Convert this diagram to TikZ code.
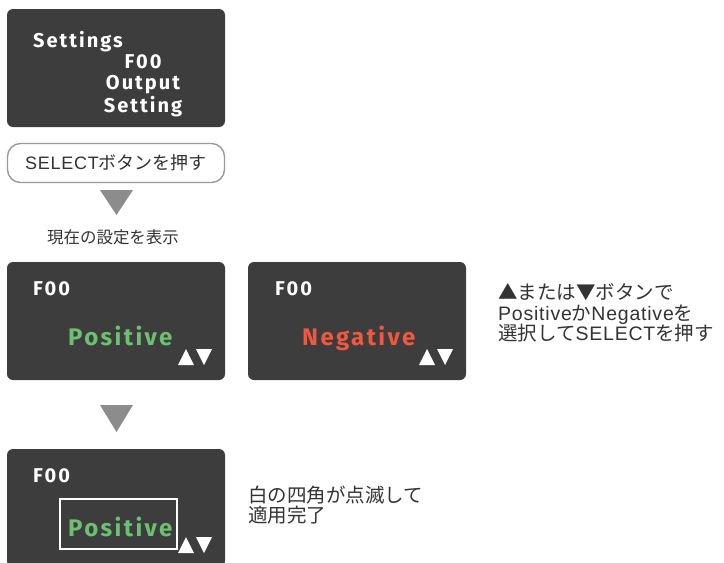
\documentclass[tikz,border=0pt]{standalone}
\usepackage{fontspec}
\setmainfont{Noto Sans CJK JP}
\newfontfamily\dispfont[LetterSpace=10]{Fira Sans}
\newfontfamily\latfont[LetterSpace=4]{Liberation Sans}
\newcommand{\lat}[1]{{\latfont #1}}

\definecolor{screenbg}{HTML}{3D3D3D}
\definecolor{posgreen}{HTML}{6DC072}
\definecolor{neggred}{HTML}{F0583F}
\definecolor{arrowgray}{HTML}{8C8C8C}
\definecolor{btnborder}{HTML}{9A9A9A}
\definecolor{txtgray}{HTML}{333333}

% up/down key marks, bottom-left corner at (#1,#2)
\newcommand{\updown}[2]{%
  \fill[white] (#1,#2) -- ++(16,0) -- ++(-8,-16) -- cycle;
  \fill[white] (#1+18,#2-16) -- ++(16,0) -- ++(-8,16) -- cycle;
}

\begin{document}
\begin{tikzpicture}[
    x=1pt, y=-1pt,
    screen/.style={
        rectangle, rounded corners=6pt, fill=screenbg,
        minimum width=218pt, minimum height=118pt, inner sep=0pt
    },
    disp/.style={font=\dispfont\bfseries\fontsize{20}{24}\selectfont,
        text=white, inner sep=0pt, anchor=base west},
    big/.style={disp, font=\dispfont\bfseries\fontsize{24}{28}\selectfont},
    button/.style={
        rectangle, rounded corners=13pt, draw=btnborder, line width=1.4pt,
        fill=white, minimum width=217pt, minimum height=39pt,
        font=\fontsize{18}{20}\selectfont, text=txtgray
    },
    note/.style={font=\fontsize{19.5}{20.5}\selectfont, text=txtgray,
        align=left, anchor=west, inner sep=0pt},
    step arrow/.style={fill=arrowgray},
]
\clip (0,0) rectangle (724,563);

% Menu screen
\node[screen] (menu) at (116,68) {};
\node[disp] (msettings) at (33,47) {Settings};
\node[disp, anchor=base] (mcode) at (143,68) {F00};
\node[disp, anchor=base] (moutput) at (143,89) {Output};
\node[disp, anchor=base] (msetting) at (143,112) {Setting};

% SELECT button
\node[button] (select) at (116,163) {\lat{SELECT}ボタンを押す};
\fill[step arrow] (100,190) -- (133,190) -- (116.5,215) -- cycle;
\node[font=\fontsize{16.5}{18}\selectfont, text=txtgray, inner sep=0pt]
    (current) at (113,237) {現在の設定を表示};

% Choice screens
\node[screen] (pos) at (116,321) {};
\node[disp] (pcode) at (33,295) {F00};
\node[big, text=posgreen] (ptext) at (68,345) {Positive};
\updown{178}{365}

\node[screen] (neg) at (357,321) {};
\node[disp] (ncode) at (275,295) {F00};
\node[big, text=neggred] (ntext) at (302,345) {Negative};
\updown{419}{365}

\node[note] (choose) at (498,313) {▲または▼ボタンで\\
    \lat{Positive}か\lat{Negative}を\\
    選択して\lat{SELECT}を押す};

\fill[step arrow] (100,405) -- (133,405) -- (116.5,432) -- cycle;

% Applied screen
\node[screen] (done) at (116,508) {};
\node[disp] (dcode) at (33,482) {F00};
\node[big, text=posgreen] (dtext) at (68,536) {Positive};
\draw[white, line width=1.5pt] (60,499) rectangle (177,549);
\updown{178}{553}

\node[note] (blink) at (248,505) {白の四角が点滅して\\適用完了};

\end{tikzpicture}
\end{document}
